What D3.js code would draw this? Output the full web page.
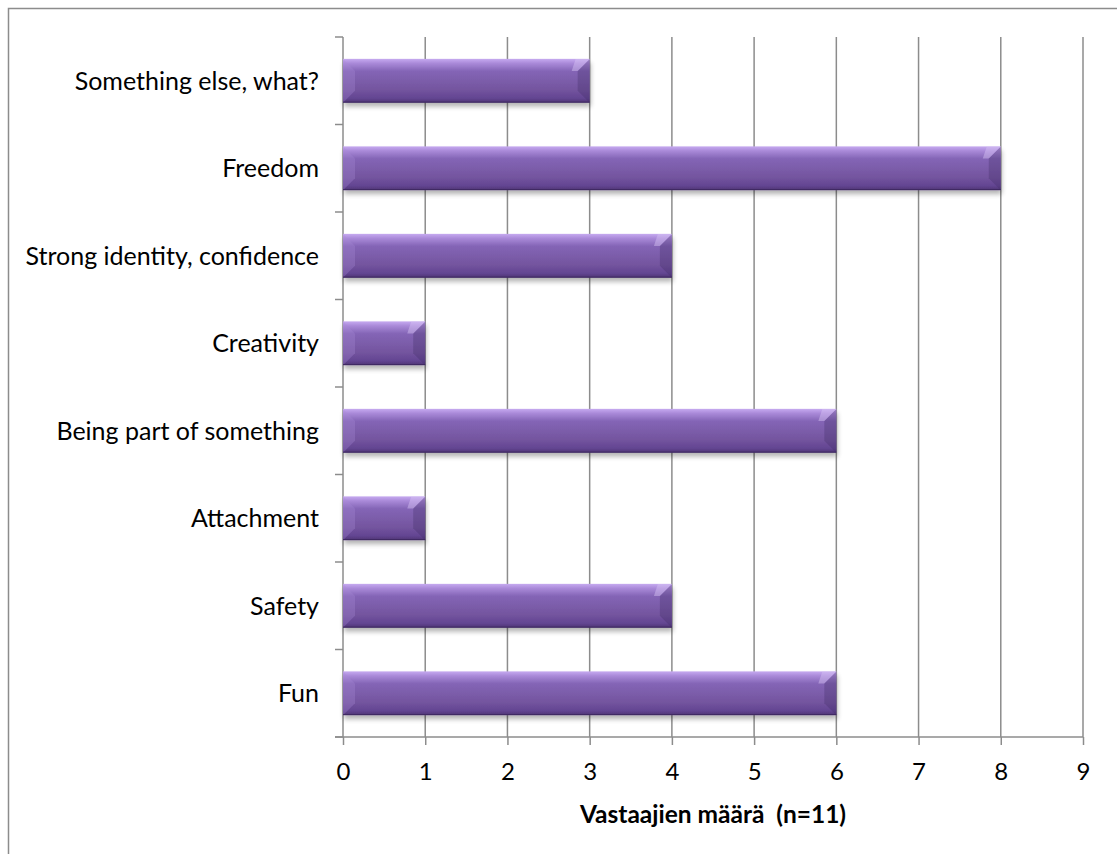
<!DOCTYPE html>
<html>
<head>
<meta charset="utf-8">
<script src="https://cdn.jsdelivr.net/npm/d3@7"></script>
<style>
  body { margin: 0; background: #fff; }
  svg { display: block; }
  text { font-family: Lato, "Open Sans", sans-serif; fill: #000; }
  .tick text { font-size: 24px; }
</style>
</head>
<body>
<svg id="chart" width="1117" height="854"></svg>
<script>
// categories, bottom to top as drawn on the chart
let categories = [
    'Fun', 'Safety', 'Attachment', 'Being part of something',
    'Creativity', 'Strong identity, confidence', 'Freedom', 'Something else, what?',
];
let counts = [6, 4, 1, 6, 1, 4, 8, 3];
let xTicks = [0, 1, 2, 3, 4, 5, 6, 7, 8, 9];
let xTitle = 'Vastaajien määrä  (n=11)';

let svg = d3.select('#chart');

let plot = { left: 343, right: 1083, top: 37, bottom: 737 };

// outer frame (runs off the right and bottom edges)
svg.append('rect')
    .attr('x', 8.5)
    .attr('y', 8.5)
    .attr('width', 1120)
    .attr('height', 860)
    .attr('fill', 'none')
    .attr('stroke', '#8c8c8c')
    .attr('stroke-width', 1.5);

let x = d3.scaleLinear()
    .domain([0, 9])
    .range([plot.left, plot.right]);

let y = d3.scaleBand()
    .domain(categories.slice().reverse())
    .range([plot.top, plot.bottom])
    .paddingInner(0.5)
    .paddingOuter(0.25);

// defs: bar gradient and shadow
let defs = svg.append('defs');

let grad = defs.append('linearGradient')
    .attr('id', 'barFill')
    .attr('x1', 0).attr('y1', 0)
    .attr('x2', 0).attr('y2', 1);
[
    [0, '#c6aaf0'],
    [0.1, '#aa8ad9'],
    [0.28, '#8465b6'],
    [0.7, '#74559f'],
    [0.9, '#634592'],
    [1, '#4e3474'],
].forEach(([o, c]) => grad.append('stop').attr('offset', o).attr('stop-color', c));

let shadow = defs.append('filter')
    .attr('id', 'barShadow')
    .attr('x', '-5%').attr('y', '-20%')
    .attr('width', '110%').attr('height', '160%');
shadow.append('feGaussianBlur')
    .attr('in', 'SourceAlpha')
    .attr('stdDeviation', 2.5);
shadow.append('feOffset')
    .attr('dx', 1)
    .attr('dy', 4)
    .attr('result', 'off');
shadow.append('feComponentTransfer')
    .append('feFuncA')
    .attr('type', 'linear')
    .attr('slope', 0.3);
let merge = shadow.append('feMerge');
merge.append('feMergeNode');
merge.append('feMergeNode').attr('in', 'SourceGraphic');

// vertical gridlines
svg.append('g')
    .selectAll('line')
    .data(xTicks.slice(1))
    .enter()
    .append('line')
    .attr('x1', (d) => x(d))
    .attr('x2', (d) => x(d))
    .attr('y1', plot.top)
    .attr('y2', plot.bottom)
    .attr('stroke', '#8c8c8c')
    .attr('stroke-width', 1.5);

// x axis
let xAxis = svg.append('g')
    .attr('transform', `translate(0,${plot.bottom})`)
    .call(d3.axisBottom(x).tickValues(xTicks).tickSize(8).tickPadding(18));
xAxis.attr('font-size', null).attr('font-family', null);
xAxis.select('.domain')
    .attr('stroke', '#8c8c8c')
    .attr('stroke-width', 1.5)
    .attr('d', `M${plot.left - 8},0H${plot.right}`);
xAxis.selectAll('.tick line')
    .attr('stroke', '#8c8c8c')
    .attr('stroke-width', 1.5);
xAxis.selectAll('.tick text')
    .attr('fill', '#000');

// y axis: category ticks sit between bars
let yAxis = svg.append('g');
yAxis.append('line')
    .attr('x1', plot.left)
    .attr('x2', plot.left)
    .attr('y1', plot.top)
    .attr('y2', plot.bottom)
    .attr('stroke', '#8c8c8c')
    .attr('stroke-width', 1.5);
yAxis.selectAll('.ytick')
    .data(d3.range(categories.length + 1))
    .enter()
    .append('line')
    .classed('ytick', 1)
    .attr('x1', plot.left - 8)
    .attr('x2', plot.left)
    .attr('y1', (i) => plot.top + i * (plot.bottom - plot.top) / categories.length)
    .attr('y2', (i) => plot.top + i * (plot.bottom - plot.top) / categories.length)
    .attr('stroke', '#8c8c8c')
    .attr('stroke-width', 1.5);

yAxis.selectAll('.ylabel')
    .data(categories)
    .enter()
    .append('text')
    .classed('ylabel', 1)
    .attr('x', plot.left - 24)
    .attr('y', (d) => y(d) + y.bandwidth() / 2)
    .attr('dy', '0.35em')
    .attr('text-anchor', 'end')
    .style('font-size', '25px')
    .text((d) => d);

// bars with bevelled ends
let bev = 12;
let bars = svg.append('g')
    .selectAll('.bar')
    .data(categories.map((c, i) => ({ cat: c, v: counts[i] })))
    .enter()
    .append('g')
    .classed('bar', 1)
    .attr('transform', (d) => `translate(${x(0)},${y(d.cat)})`);

bars.append('rect')
    .attr('width', (d) => x(d.v) - x(0))
    .attr('height', y.bandwidth())
    .attr('fill', 'url(#barFill)')
    .attr('filter', 'url(#barShadow)');

// left bevel: lighter wedge
bars.append('path')
    .attr('d', () => {
        let h = y.bandwidth();
        return `M0,0L${bev},${bev}L${bev},${h - bev}L0,${h}Z`;
    })
    .attr('fill', '#a98bd8')
    .attr('opacity', 0.3);

// right bevel: darker wedge
bars.append('path')
    .attr('d', (d) => {
        let h = y.bandwidth();
        let w = x(d.v) - x(0);
        return `M${w},0L${w - bev},${bev}L${w - bev},${h - bev}L${w},${h}Z`;
    })
    .attr('fill', '#3f2a63')
    .attr('opacity', 0.3);

// top-right highlight corner
bars.append('path')
    .attr('d', (d) => {
        let w = x(d.v) - x(0);
        return `M${w},0L${w - bev},${bev}L${w - bev - 6},${bev}L${w - bev - 2},0Z`;
    })
    .attr('fill', '#d8c4f5')
    .attr('opacity', 0.45);

// bottom edge dark line
bars.append('line')
    .attr('x1', 0)
    .attr('x2', (d) => x(d.v) - x(0))
    .attr('y1', y.bandwidth() - 0.5)
    .attr('y2', y.bandwidth() - 0.5)
    .attr('stroke', '#3e2960')
    .attr('stroke-width', 1);

// axis title
svg.append('text')
    .attr('x', (plot.left + plot.right) / 2)
    .attr('y', 823)
    .attr('text-anchor', 'middle')
    .style('font-size', '24.5px')
    .style('font-weight', 'bold')
    .style('white-space', 'pre')
    .text(xTitle);
</script>
</body>
</html>
